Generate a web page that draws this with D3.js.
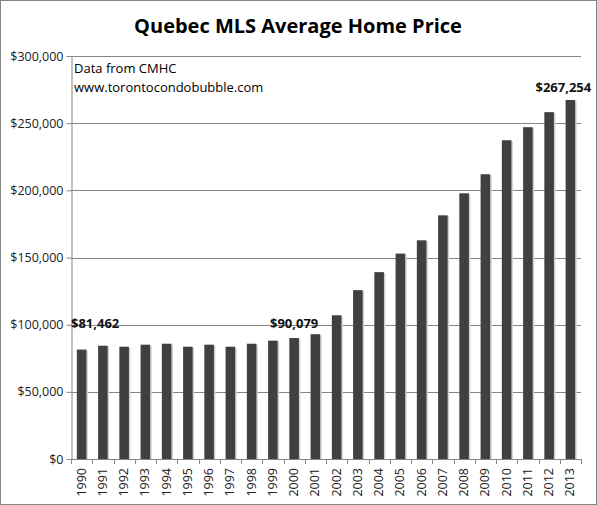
<!DOCTYPE html>
<html>
<head>
<meta charset="utf-8">
<script src="https://cdn.jsdelivr.net/npm/d3@7"></script>
<style>
  body { margin: 0; background: #fff; }
  text { font-family: "Open Sans", "Noto Sans", sans-serif; }
</style>
</head>
<body>
<div id="chart"></div>
<script>
// chart data
const years = ["1990","1991","1992","1993","1994","1995","1996","1997","1998","1999","2000","2001",
               "2002","2003","2004","2005","2006","2007","2008","2009","2010","2011","2012","2013"];
const prices = [81462, 84300, 83600, 85100, 85800, 83600, 85100, 83600, 85800, 88100, 90079, 92900,
                107000, 125700, 139100, 152900, 162800, 181400, 197800, 212000, 237300, 247000, 258200, 267254];
const yTicks = [0, 50000, 100000, 150000, 200000, 250000, 300000];
const labelled = ["1990", "2000", "2013"];
const notes = ["Data from CMHC", "www.torontocondobubble.com"];

const W = 597, H = 505;
const margin = { top: 56, right: 16, bottom: 46, left: 71 };
const width = W - margin.left - margin.right;
const height = H - margin.top - margin.bottom;

const svg = d3.select("#chart").append("svg")
  .attr("width", W)
  .attr("height", H);

// outer frame
svg.append("rect")
  .attr("x", 0.5).attr("y", 0.5)
  .attr("width", W - 1).attr("height", H - 1)
  .attr("fill", "#fff")
  .attr("stroke", "#868686");

svg.append("text")
  .attr("x", 298).attr("y", 33)
  .attr("text-anchor", "middle")
  .attr("font-size", 20)
  .attr("font-weight", "bold")
  .attr("fill", "#000")
  .text("Quebec MLS Average Home Price");

const g = svg.append("g")
  .attr("transform", "translate(" + margin.left + "," + margin.top + ")");

const x = d3.scaleBand().domain(years).range([0, width]).paddingInner(0.55).paddingOuter(0.275);
const xCat = d3.scaleBand().domain(years).range([0, width]);
const y = d3.scaleLinear().domain([0, 300000]).range([height, 0]);

// gridlines
g.selectAll("line.grid")
  .data(yTicks.filter(d => d > 0))
  .join("line")
  .attr("class", "grid")
  .attr("x1", 0).attr("x2", width)
  .attr("y1", d => Math.round(y(d)) + 0.5)
  .attr("y2", d => Math.round(y(d)) + 0.5)
  .attr("stroke", "#868686");

// y axis
const yAxis = g.append("g")
  .attr("transform", "translate(0.5,0)")
  .call(d3.axisLeft(y).tickValues(yTicks).tickFormat(d3.format("$,")).tickSize(5).tickSizeOuter(0));
yAxis.select(".domain").attr("stroke", "#868686");
yAxis.selectAll(".tick line").attr("stroke", "#868686");
yAxis.selectAll(".tick text").attr("font-size", 12.5).attr("fill", "#222").attr("x", -8)
  .style("font-family", "'Open Sans', sans-serif");

// bars with a faint shadow
g.selectAll("rect.shadow")
  .data(prices)
  .join("rect")
  .attr("class", "shadow")
  .attr("x", (d, i) => x(years[i]) + 1.5)
  .attr("y", d => y(d) + 1)
  .attr("width", x.bandwidth())
  .attr("height", d => height - y(d) - 1)
  .attr("fill", "#d0d0d0");

g.selectAll("rect.bar")
  .data(prices)
  .join("rect")
  .attr("class", "bar")
  .attr("x", (d, i) => x(years[i]))
  .attr("y", d => y(d))
  .attr("width", x.bandwidth())
  .attr("height", d => height - y(d))
  .attr("fill", "#404040");

// x axis line and ticks between categories
g.append("line")
  .attr("x1", 0).attr("x2", width)
  .attr("y1", height + 0.5).attr("y2", height + 0.5)
  .attr("stroke", "#868686");
g.selectAll("line.xtick")
  .data(years.concat(["end"]))
  .join("line")
  .attr("class", "xtick")
  .attr("x1", (d, i) => Math.round(i * xCat.step()) + 0.5)
  .attr("x2", (d, i) => Math.round(i * xCat.step()) + 0.5)
  .attr("y1", height)
  .attr("y2", height + 5)
  .attr("stroke", "#868686");

g.selectAll("text.year")
  .data(years)
  .join("text")
  .attr("class", "year")
  .attr("transform", d => "translate(" + (xCat(d) + xCat.bandwidth() / 2 + 4) + "," + (height + 9) + ") rotate(-90)")
  .attr("text-anchor", "end")
  .attr("font-size", 12.5)
  .attr("fill", "#222")
  .text(d => d);

// value labels
const fmt = d3.format("$,");
const labelPos = {
  "1990": { anchor: "start", dx: (d) => -x(d), dy: -22 },
  "2000": { anchor: "middle", dx: () => x.bandwidth() / 2, dy: -10 },
  "2013": { anchor: "middle", dx: () => x.bandwidth() / 2 - 7, dy: -8 }
};
g.selectAll("text.value")
  .data(labelled)
  .join("text")
  .attr("class", "value")
  .attr("x", d => x(d) + labelPos[d].dx(d))
  .attr("y", d => y(prices[years.indexOf(d)]) + labelPos[d].dy)
  .attr("text-anchor", d => labelPos[d].anchor)
  .attr("font-size", 13)
  .attr("font-weight", "bold")
  .attr("fill", "#111")
  .text(d => fmt(prices[years.indexOf(d)]));

// note in the corner
g.selectAll("text.note")
  .data(notes)
  .join("text")
  .attr("class", "note")
  .attr("x", 3)
  .attr("y", (d, i) => 17 + i * 19)
  .attr("font-size", 13)
  .attr("fill", "#000")
  .text(d => d);
</script>
</body>
</html>
